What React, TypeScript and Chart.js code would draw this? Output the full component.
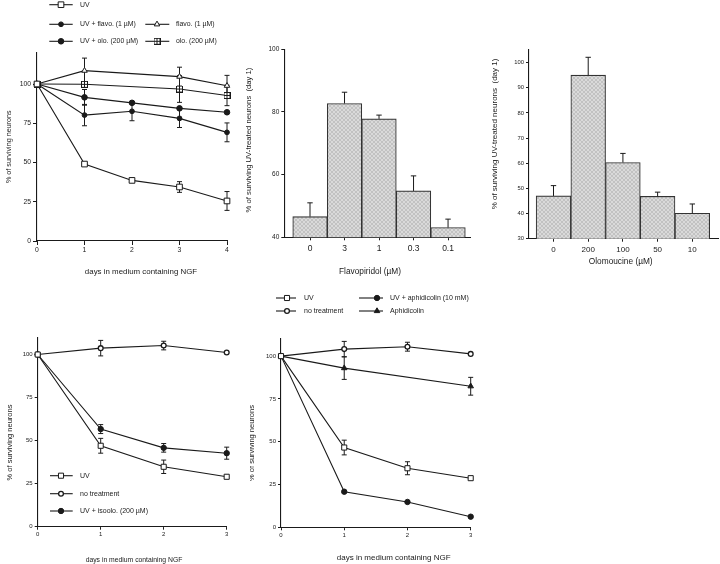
import React, { useEffect, useRef } from 'react';
import { Chart, registerables } from 'chart.js';
import { drawPoint } from 'chart.js/helpers';

Chart.register(...registerables);

const FONT = '"Liberation Sans", Arial, Helvetica, sans-serif';
const INK = '#1a1a1a';

// ---------- Panel A: days 0-4, UV +/- flavopiridol / olomoucine ----------
const daysA = [0, 1, 2, 3, 4];
const uvA = [100, 49, 38.6, 34.4, 25.5];
const uvAErr = [0, 0, 0, 3.4, 6];
const uvFlavoA = [100, 80.2, 82.6, 78.1, 69.2];
const uvFlavoAErr = [0, 6.8, 6, 5.8, 6];
const uvOloA = [100, 91.5, 88, 84.5, 82];
const uvOloAErr = [0, 5, 0, 0, 0];
const flavoA = [100, 108.5, null, 104.7, 98.9];
const flavoAErr = [0, 8, 0, 6, 6.6];
const oloA = [100, 99.8, null, 96.8, 92.7];
const oloAErr = [0, 0, 0, 8.5, 6.5];

// ---------- Panel B: flavopiridol dose (day 1) ----------
const flavoDoses = ['0', '3', '1', '0.3', '0.1'];
const flavoBars = [46.6, 82.7, 77.8, 54.8, 43.1];
const flavoBarErr = [4.4, 3.6, 1.2, 4.8, 2.7];

// ---------- Panel C: olomoucine dose (day 1) ----------
const oloDoses = ['0', '200', '100', '50', '10'];
const oloBars = [47, 95, 60.3, 46.8, 40.1];
const oloBarErr = [4.1, 7.1, 3.6, 1.7, 3.7];

// ---------- Panel D: days 0-3, isoolomoucine ----------
const daysD = [0, 1, 2, 3];
const uvD = [100, 47, 34.8, 29];
const uvDErr = [0, 4.3, 3.9, 0];
const noTreatD = [100, 103.7, 105.2, 101.2];
const noTreatDErr = [0, 4.5, 2.5, 0];
const isooloD = [100, 56.7, 45.8, 42.7];
const isooloDErr = [0, 2.6, 2.5, 3.5];

// ---------- Panel E: days 0-3, aphidicolin ----------
const daysE = [0, 1, 2, 3];
const uvE = [100, 46.6, 34.5, 28.7];
const uvEErr = [0, 4.3, 3.8, 0];
const noTreatE = [100, 104.1, 105.5, 101.3];
const noTreatEErr = [0, 4.5, 2.6, 0];
const aphE = [100, 93, null, 82.4];
const aphEErr = [0, 6.6, 0, 5.2];
const uvAphE = [100, 20.8, 14.8, 6.2];
const uvAphEErr = [0, 0, 0, 0];

// ---------------- helpers ----------------
const pts = (xs: number[], ys: (number | null)[]) => xs.map((x, i) => ({ x, y: ys[i] }));

function makeSquareCross(size: number) {
  const c = document.createElement('canvas');
  c.width = size;
  c.height = size;
  const g = c.getContext('2d')!;
  g.fillStyle = '#fff';
  g.fillRect(0.5, 0.5, size - 1, size - 1);
  g.strokeStyle = INK;
  g.lineWidth = 1;
  g.strokeRect(0.5, 0.5, size - 1, size - 1);
  g.beginPath();
  g.moveTo(size / 2, 0.5);
  g.lineTo(size / 2, size - 0.5);
  g.moveTo(0.5, size / 2);
  g.lineTo(size - 0.5, size / 2);
  g.stroke();
  return c;
}

function makeHatch(target: HTMLCanvasElement) {
  const c = document.createElement('canvas');
  c.width = 4;
  c.height = 4;
  const g = c.getContext('2d')!;
  g.fillStyle = '#dadada';
  g.fillRect(0, 0, 4, 4);
  g.fillStyle = '#c2c2c2';
  for (let i = 0; i < 4; i++) {
    g.fillRect(i, i, 1, 1);
    g.fillRect(3 - i, i, 1, 1);
  }
  return target.getContext('2d')!.createPattern(c, 'repeat');
}

function lineDs(label: string, xs: number[], ys: (number | null)[], errs: number[], ps: any, r: number, fill: string, bw = 1) {
  return {
    label,
    data: pts(xs, ys),
    errors: errs,
    borderColor: INK,
    borderWidth: 1.1,
    spanGaps: true,
    tension: 0,
    clip: false,
    pointStyle: ps,
    pointRadius: r,
    pointHoverRadius: r,
    pointBackgroundColor: fill,
    pointBorderColor: INK,
    pointBorderWidth: bw,
  };
}

function linearY(min: number, max: number, step: number, fs: number, width: number, tl: number) {
  return {
    type: 'linear',
    min,
    max,
    ticks: { stepSize: step, includeBounds: false, font: { family: FONT, size: fs }, color: INK, padding: 2 },
    grid: { display: true, drawOnChartArea: false, drawTicks: true, tickLength: tl, tickColor: INK, color: INK, lineWidth: 1 },
    border: { display: true, color: INK, width: 1.1 },
    afterFit: (s: any) => {
      s.width = width;
    },
  };
}

function linearX(min: number, max: number, fs: number, height: number, pad: number, tl: number) {
  return {
    type: 'linear',
    min,
    max,
    offset: false,
    ticks: { stepSize: 1, includeBounds: false, font: { family: FONT, size: fs }, color: INK, padding: pad, maxRotation: 0, autoSkip: false },
    grid: { display: true, offset: false, drawOnChartArea: false, drawTicks: true, tickLength: tl, tickColor: INK, color: INK, lineWidth: 1 },
    border: { display: true, color: INK, width: 1.1 },
    afterFit: (s: any) => {
      s.height = height;
    },
  };
}

function barX(min: number, max: number, labels: string[], fs: number, height: number, pad: number) {
  return {
    type: 'linear',
    min,
    max,
    offset: false,
    afterBuildTicks: (s: any) => {
      s.ticks = labels.map((_, i) => ({ value: i }));
    },
    ticks: {
      callback: (v: any) => labels[Math.round(Number(v))] ?? '',
      font: { family: FONT, size: fs },
      color: INK,
      padding: pad,
      maxRotation: 0,
      autoSkip: false,
    },
    grid: { display: true, offset: false, drawOnChartArea: false, drawTicks: true, tickLength: 3, tickColor: INK, color: INK, lineWidth: 1 },
    border: { display: true, color: INK, width: 1.1 },
    afterFit: (s: any) => {
      s.height = height;
    },
  };
}

function drawErrors(chart: any, up: boolean, cap: number) {
  const ctx = chart.ctx;
  const yScale = chart.scales.y;
  chart.data.datasets.forEach((ds: any, i: number) => {
    const errs = ds.errors;
    if (!errs) return;
    const meta = chart.getDatasetMeta(i);
    meta.data.forEach((el: any, j: number) => {
      const d = ds.data[j];
      const val = d && typeof d === 'object' ? d.y : d;
      const e = errs[j];
      if (val == null || !e) return;
      const x = el.x;
      const yTop = yScale.getPixelForValue(val + e);
      const yBot = up ? el.y : yScale.getPixelForValue(val - e);
      ctx.save();
      ctx.strokeStyle = INK;
      ctx.lineWidth = 1;
      ctx.beginPath();
      ctx.moveTo(x, yTop);
      ctx.lineTo(x, yBot);
      ctx.moveTo(x - cap, yTop);
      ctx.lineTo(x + cap, yTop);
      if (!up) {
        ctx.moveTo(x - cap, yBot);
        ctx.lineTo(x + cap, yBot);
      }
      ctx.stroke();
      ctx.restore();
    });
  });
}

type TextItem = { text: string; x: number; y: number; size: number; rot?: boolean };
type LegendItem = { ds: number; text: string; y: number; x1: number; x2: number; mx: number; tx: number };

function overlay(offX: number, offY: number, texts: TextItem[], legend: LegendItem[], legendSize: number, errUp: boolean, cap: number) {
  return {
    id: 'overlay',
    beforeDatasetsDraw(chart: any) {
      if (!errUp) drawErrors(chart, false, cap);
    },
    afterDatasetsDraw(chart: any) {
      if (errUp) drawErrors(chart, true, cap);
    },
    afterDraw(chart: any) {
      const ctx = chart.ctx;
      texts.forEach((t) => {
        ctx.save();
        ctx.fillStyle = INK;
        ctx.font = `${t.size}px ${FONT}`;
        ctx.textAlign = 'center';
        ctx.textBaseline = 'middle';
        ctx.translate(t.x - offX, t.y - offY);
        if (t.rot) ctx.rotate(-Math.PI / 2);
        ctx.fillText(t.text, 0, 0);
        ctx.restore();
      });
      legend.forEach((it) => {
        const ds = chart.data.datasets[it.ds];
        const y = it.y - offY;
        ctx.save();
        ctx.strokeStyle = INK;
        ctx.lineWidth = 1.1;
        ctx.beginPath();
        ctx.moveTo(it.x1 - offX, y);
        ctx.lineTo(it.x2 - offX, y);
        ctx.stroke();
        ctx.fillStyle = ds.pointBackgroundColor;
        ctx.strokeStyle = ds.pointBorderColor;
        ctx.lineWidth = ds.pointBorderWidth;
        drawPoint(ctx, { pointStyle: ds.pointStyle, radius: ds.pointRadius, borderWidth: ds.pointBorderWidth, rotation: 0 } as any, it.mx - offX, y);
        ctx.fillStyle = INK;
        ctx.font = `${legendSize}px ${FONT}`;
        ctx.textAlign = 'left';
        ctx.textBaseline = 'middle';
        ctx.fillText(it.text, it.tx - offX, y);
        ctx.restore();
      });
    },
  };
}

const baseOptions = (padding: any, scales: any) => ({
  responsive: false,
  maintainAspectRatio: false,
  animation: false,
  events: [],
  layout: { padding },
  plugins: { legend: { display: false }, tooltip: { enabled: false }, title: { display: false } },
  scales,
});

// panel placements (page pixels)
const PA = { x: 0, y: 0, w: 240, h: 290 };
const PB = { x: 240, y: 40, w: 232, h: 245 };
const PC = { x: 472, y: 40, w: 248, h: 240 };
const PD = { x: 0, y: 330, w: 245, h: 234 };
const PE = { x: 250, y: 286, w: 230, h: 278 };

function buildA(cv: HTMLCanvasElement) {
  const sqx = makeSquareCross(7);
  const datasets = [
    lineDs('UV', daysA, uvA, uvAErr, 'rect', 4, '#fff'),
    lineDs('UV + flavo. (1 µM)', daysA, uvFlavoA, uvFlavoAErr, 'circle', 2.4, INK),
    lineDs('UV + olo. (200 µM)', daysA, uvOloA, uvOloAErr, 'circle', 2.8, INK),
    lineDs('flavo. (1 µM)', daysA, flavoA, flavoAErr, 'triangle', 3.2, '#fff'),
    lineDs('olo. (200 µM)', daysA, oloA, oloAErr, sqx, 3.5, '#fff'),
  ];
  const texts: TextItem[] = [
    { text: '% of surviving neurons', x: 9, y: 146.7, size: 7.2, rot: true },
    { text: 'days in medium containing NGF', x: 141, y: 272, size: 7.9 },
  ];
  const legend: LegendItem[] = [
    { ds: 0, text: 'UV', y: 4.7, x1: 49.3, x2: 72.7, mx: 61, tx: 80 },
    { ds: 1, text: 'UV + flavo. (1 µM)', y: 24.3, x1: 49.3, x2: 72.7, mx: 61, tx: 80 },
    { ds: 3, text: 'flavo. (1 µM)', y: 24.3, x1: 145.3, x2: 169.3, mx: 157, tx: 176 },
    { ds: 2, text: 'UV + olo. (200 µM)', y: 41.3, x1: 49.3, x2: 72.7, mx: 61, tx: 80 },
    { ds: 4, text: 'olo. (200 µM)', y: 41.3, x1: 145.3, x2: 169.3, mx: 157, tx: 176 },
  ];
  return new Chart(cv, {
    type: 'line',
    data: { datasets } as any,
    options: baseOptions({ left: 0, top: 52.6, right: 13, bottom: 0 }, {
      x: linearX(0, 4, 6.8, 49, 1.5, 4),
      y: linearY(0, 120, 25, 6.8, 37, 4),
    }) as any,
    plugins: [overlay(PA.x, PA.y, texts, legend, 6.9, false, 2.5)],
  });
}

function buildBar(cv: HTMLCanvasElement, P: any, labels: string[], vals: number[], errs: number[], yCfg: any, xCfg: any, pad: any, texts: TextItem[]) {
  const hatch = makeHatch(cv);
  const datasets = [
    {
      label: 'day 1',
      data: pts(labels.map((_, i) => i), vals),
      errors: errs,
      backgroundColor: hatch,
      borderColor: '#333',
      borderWidth: 1.1,
      borderSkipped: false,
      barPercentage: 1,
      categoryPercentage: 1,
    },
  ];
  return new Chart(cv, {
    type: 'bar',
    data: { datasets } as any,
    options: baseOptions(pad, { x: xCfg, y: yCfg }) as any,
    plugins: [overlay(P.x, P.y, texts, [], 7, true, 2.7)],
  });
}

function buildB(cv: HTMLCanvasElement) {
  return buildBar(
    cv,
    PB,
    flavoDoses,
    flavoBars,
    flavoBarErr,
    linearY(40, 100, 20, 6.5, 44.3, 3),
    barX(-0.745, 4.636, flavoDoses, 8.5, 47.7, 3),
    { left: 0, top: 9.3, right: 2, bottom: 0 },
    [
      { text: '% of surviving UV-treated neurons  (day 1)', x: 249, y: 140, size: 7.7, rot: true },
      { text: 'Flavopiridol (µM)', x: 370, y: 271.7, size: 8.3 },
    ]
  );
}

function buildC(cv: HTMLCanvasElement) {
  return buildBar(
    cv,
    PC,
    oloDoses,
    oloBars,
    oloBarErr,
    linearY(30, 105, 10, 5.8, 57, 3),
    barX(-0.706, 4.74, oloDoses, 8, 41.3, 3.5),
    { left: 0, top: 10, right: 2, bottom: 0 },
    [
      { text: '% of surviving UV-treated neurons  (day 1)', x: 495, y: 134, size: 8, rot: true },
      { text: 'Olomoucine (µM)', x: 620.7, y: 261.5, size: 8.3 },
    ]
  );
}

function buildD(cv: HTMLCanvasElement) {
  const datasets = [
    lineDs('UV', daysD, uvD, uvDErr, 'rect', 3.6, '#fff'),
    lineDs('no treatment', daysD, noTreatD, noTreatDErr, 'circle', 2.4, '#fff', 1.3),
    lineDs('UV + isoolo. (200 µM)', daysD, isooloD, isooloDErr, 'circle', 2.7, INK),
  ];
  const texts: TextItem[] = [
    { text: '% of surviving neurons', x: 10, y: 442.5, size: 7.5, rot: true },
    { text: 'days in medium containing NGF', x: 134, y: 560, size: 6.8 },
  ];
  const legend: LegendItem[] = [
    { ds: 0, text: 'UV', y: 475.7, x1: 50, x2: 72.7, mx: 61, tx: 80 },
    { ds: 1, text: 'no treatment', y: 493.7, x1: 50, x2: 72.7, mx: 61, tx: 80 },
    { ds: 2, text: 'UV + isoolo. (200 µM)', y: 511, x1: 50, x2: 72.7, mx: 61, tx: 80 },
  ];
  return new Chart(cv, {
    type: 'line',
    data: { datasets } as any,
    options: baseOptions({ left: 0, top: 7.3, right: 18.3, bottom: 0 }, {
      x: linearX(0, 3, 6, 37.3, 1.4, 3),
      y: linearY(0, 110, 25, 6, 37.7, 3),
    }) as any,
    plugins: [overlay(PD.x, PD.y, texts, legend, 7, false, 2.5)],
  });
}

function buildE(cv: HTMLCanvasElement) {
  const datasets = [
    lineDs('UV', daysE, uvE, uvEErr, 'rect', 3.6, '#fff'),
    lineDs('no treatment', daysE, noTreatE, noTreatEErr, 'circle', 2.4, '#fff', 1.3),
    lineDs('UV + aphidicolin (10 mM)', daysE, uvAphE, uvAphEErr, 'circle', 2.7, INK),
    lineDs('Aphidicolin', daysE, aphE, aphEErr, 'triangle', 3.2, INK),
  ];
  const texts: TextItem[] = [
    { text: '% of surviving neurons', x: 252, y: 443, size: 7.5, rot: true },
    { text: 'days in medium containing NGF', x: 393.7, y: 557.3, size: 8 },
  ];
  const legend: LegendItem[] = [
    { ds: 0, text: 'UV', y: 298, x1: 276, x2: 296, mx: 287, tx: 304 },
    { ds: 1, text: 'no treatment', y: 311, x1: 276, x2: 296, mx: 287, tx: 304 },
    { ds: 2, text: 'UV + aphidicolin (10 mM)', y: 298, x1: 359, x2: 383, mx: 377, tx: 390 },
    { ds: 3, text: 'Aphidicolin', y: 311, x1: 359, x2: 383, mx: 377, tx: 390 },
  ];
  return new Chart(cv, {
    type: 'line',
    data: { datasets } as any,
    options: baseOptions({ left: 0, top: 53, right: 9.3, bottom: 0 }, {
      x: linearX(0, 3, 6, 36.7, 1.8, 3),
      y: linearY(0, 110, 25, 6, 31, 3),
    }) as any,
    plugins: [overlay(PE.x, PE.y, texts, legend, 7, false, 2.5)],
  });
}

export default function App() {
  const rA = useRef<HTMLCanvasElement>(null);
  const rB = useRef<HTMLCanvasElement>(null);
  const rC = useRef<HTMLCanvasElement>(null);
  const rD = useRef<HTMLCanvasElement>(null);
  const rE = useRef<HTMLCanvasElement>(null);

  useEffect(() => {
    const charts: Chart[] = [];
    if (rA.current) charts.push(buildA(rA.current));
    if (rB.current) charts.push(buildB(rB.current));
    if (rC.current) charts.push(buildC(rC.current));
    if (rD.current) charts.push(buildD(rD.current));
    if (rE.current) charts.push(buildE(rE.current));
    return () => charts.forEach((c) => c.destroy());
  }, []);

  const cs = (P: any): React.CSSProperties => ({ position: 'absolute', left: P.x, top: P.y, width: P.w, height: P.h });

  return (
    <div style={{ position: 'absolute', left: 0, top: 0, width: 720, height: 564, background: '#fff', overflow: 'hidden' }}>
      <canvas ref={rA} width={PA.w} height={PA.h} style={cs(PA)} />
      <canvas ref={rB} width={PB.w} height={PB.h} style={cs(PB)} />
      <canvas ref={rC} width={PC.w} height={PC.h} style={cs(PC)} />
      <canvas ref={rD} width={PD.w} height={PD.h} style={cs(PD)} />
      <canvas ref={rE} width={PE.w} height={PE.h} style={cs(PE)} />
    </div>
  );
}
